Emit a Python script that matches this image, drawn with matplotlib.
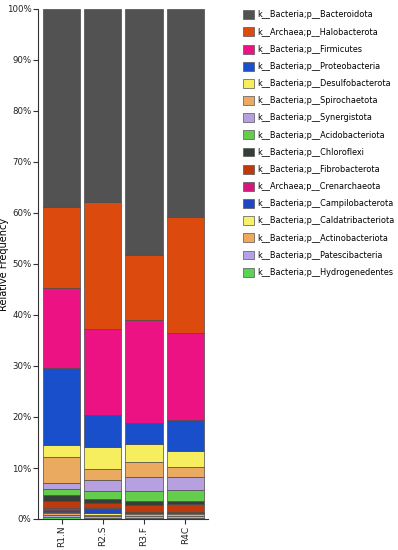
import matplotlib
matplotlib.use("Agg")
import matplotlib.pyplot as plt
import numpy as np
from matplotlib.patches import Patch

samples = ["R1.N", "R2.S", "R3.F", "R4C"]

# taxa listed top-of-stack first (legend order)
taxa = [
    "k__Bacteria;p__Bacteroidota",
    "k__Archaea;p__Halobacterota",
    "k__Bacteria;p__Firmicutes",
    "k__Bacteria;p__Proteobacteria",
    "k__Bacteria;p__Desulfobacterota",
    "k__Bacteria;p__Spirochaetota",
    "k__Bacteria;p__Synergistota",
    "k__Bacteria;p__Acidobacteriota",
    "k__Bacteria;p__Chloroflexi",
    "k__Bacteria;p__Fibrobacterota",
    "k__Archaea;p__Crenarchaeota",
    "k__Bacteria;p__Campilobacterota",
    "k__Bacteria;p__Caldatribacteriota",
    "k__Bacteria;p__Actinobacteriota",
    "k__Bacteria;p__Patescibacteria",
    "k__Bacteria;p__Hydrogenedentes",
]

colors = [
    "#525252", "#DC4A0E", "#EC1283", "#1A4FCB", "#F6EE5E", "#EAAA60",
    "#B7A0DF", "#64CE4C", "#353F38", "#BE3A0E", "#D5167C", "#2046C2",
    "#F7F06A", "#EFA85E", "#B3A2E6", "#5AD256",
]

# relative frequency (%) per sample, same order as taxa
bacteroidota      = [38.8, 37.8, 48.3, 40.7]
halobacterota     = [16.0, 25.0, 12.7, 22.9]
firmicutes        = [15.5, 16.8, 20.2, 17.0]
proteobacteria    = [15.2, 6.2, 4.1, 6.1]
desulfobacterota  = [2.4, 4.3, 3.5, 3.2]
spirochaetota     = [5.1, 2.3, 2.9, 1.8]
synergistota      = [1.1, 2.2, 2.8, 2.6]
acidobacteriota   = [1.1, 1.4, 1.9, 2.1]
chloroflexi       = [1.2, 0.9, 0.9, 0.7]
fibrobacterota    = [1.5, 1.0, 1.3, 1.5]
crenarchaeota     = [0.3, 0.2, 0.2, 0.2]
campilobacterota  = [0.4, 0.7, 0.1, 0.1]
caldatribacteriota = [0.3, 0.4, 0.2, 0.2]
actinobacteriota  = [0.4, 0.3, 0.4, 0.4]
patescibacteria   = [0.4, 0.3, 0.3, 0.3]
hydrogenedentes   = [0.3, 0.2, 0.2, 0.2]

values = [bacteroidota, halobacterota, firmicutes, proteobacteria,
          desulfobacterota, spirochaetota, synergistota, acidobacteriota,
          chloroflexi, fibrobacterota, crenarchaeota, campilobacterota,
          caldatribacteriota, actinobacteriota, patescibacteria,
          hydrogenedentes]

fig = plt.figure(figsize=(3.98, 5.5), dpi=100)
ax = fig.add_axes([38/398, 1-519/550, 170/398, 510/550])

x = np.arange(len(samples))
bottom = np.zeros(len(samples))
# stack from the bottom: last taxon first
for name, col, v in reversed(list(zip(taxa, colors, values))):
    v = np.array(v, dtype=float)
    ax.bar(x, v, bottom=bottom, width=0.9, color=col,
           edgecolor="#4a4a4a", linewidth=0.5)
    bottom += v

ax.set_xlim(-0.57, 3.55)
ax.set_ylim(0, 100)
ax.set_yticks(np.arange(0, 101, 10))
ax.set_yticklabels([f"{t}%" for t in range(0, 101, 10)], fontsize=6.2)
ax.set_xticks(x)
ax.set_xticklabels(samples, rotation=90, fontsize=6.5)
ax.set_ylabel("Relative Frequency", fontsize=7)
ax.yaxis.set_label_coords(-0.17, 0.5)
for s in ["top", "right"]:
    ax.spines[s].set_visible(False)
for s in ["left", "bottom"]:
    ax.spines[s].set_color("#333333")
    ax.spines[s].set_linewidth(0.8)
ax.tick_params(axis="both", length=3.5, width=0.8, color="#333333", pad=1.2,
               labelcolor="#222222")

handles = [Patch(facecolor=c, edgecolor="#555555", linewidth=0.5) for c in colors]
fig.legend(handles, taxa, loc="upper left", bbox_to_anchor=(240/398, 1-7/550),
           frameon=False, fontsize=5.9, handlelength=1.25, handleheight=1.3,
           handletextpad=0.5, labelspacing=0.97, borderaxespad=0)

fig.savefig("out.png", dpi=100)
